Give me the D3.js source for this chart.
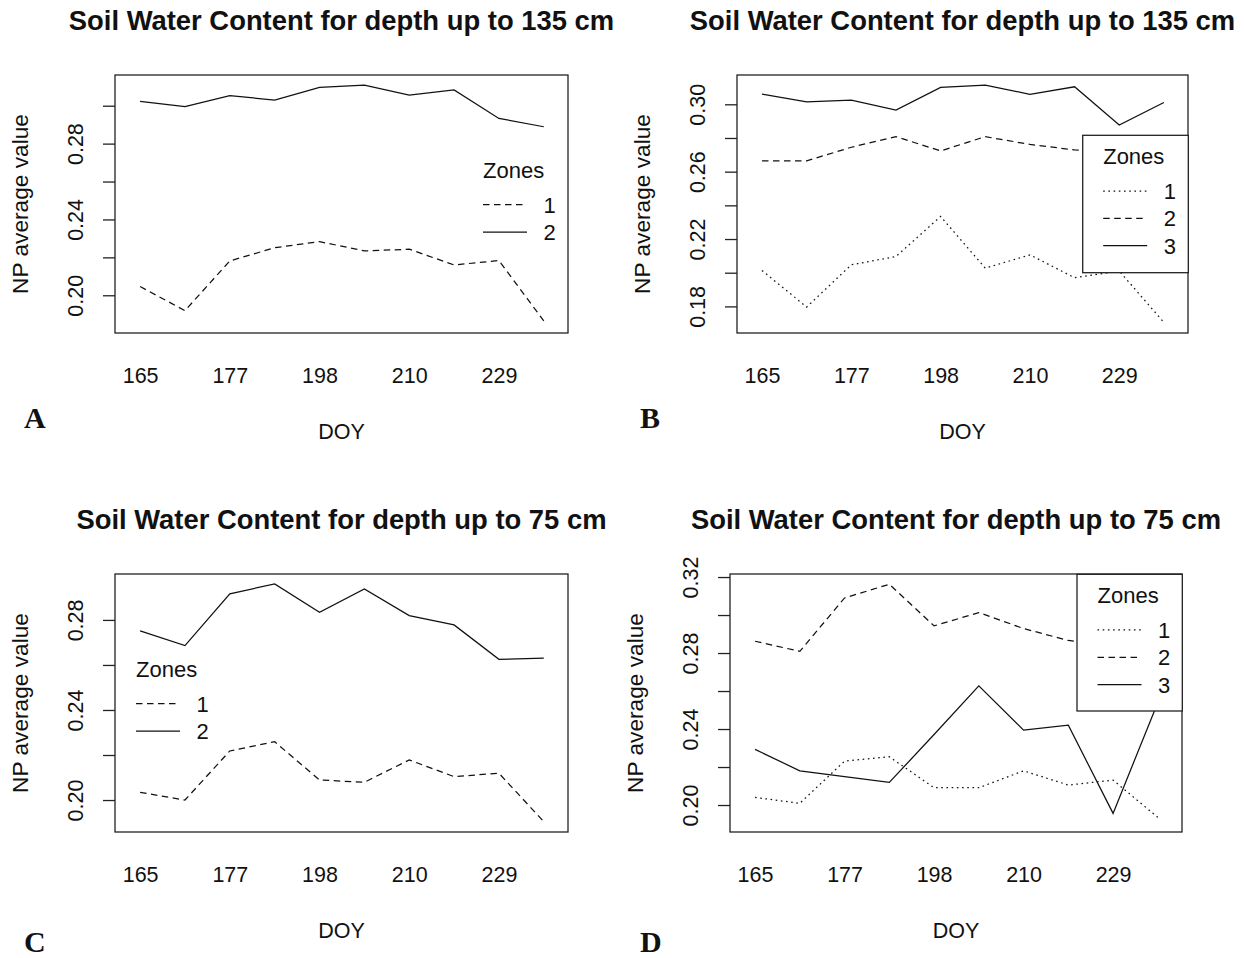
<!DOCTYPE html>
<html lang="en">
<head>
<meta charset="UTF-8">
<title>Soil Water Content</title>
<script src="https://d3js.org/d3.v7.min.js"></script>
<style>
    body { margin: 0; background: #fff; }
    svg { display: block; font-family: "Liberation Sans", Arial, sans-serif; fill: #111; }
    .box { fill: none; stroke: #222; stroke-width: 1.3; }
    .series { fill: none; stroke: #111; stroke-width: 1.25; }
    .title { font-size: 27.4px; font-weight: bold; }
    .lab { font-size: 21.5px; }
    .ylab { font-size: 22.7px; }
    .leg { font-size: 22px; }
    .letter { font-family: "Liberation Serif", "Times New Roman", serif; font-size: 30px; font-weight: bold; }
    .tick line { stroke: #222; stroke-width: 1.3; }
    .tick text { font-size: 21.5px; fill: #111; font-family: "Liberation Sans", Arial, sans-serif; }
</style>
</head>
<body>
<div id="container"></div>
<script>
// x is the sample index, only every second sample gets a DOY label
const doyTicks = [0, 2, 4, 6, 8];
const doyLabels = ["165", "177", "198", "210", "229"];

// A: 135 cm, 2 zones
const a_zone1 = [0.2046, 0.1919, 0.2181, 0.2251, 0.2283, 0.2234, 0.2243, 0.2160, 0.2183, 0.1865];
const a_zone2 = [0.3023, 0.2995, 0.3053, 0.3030, 0.3097, 0.3109, 0.3056, 0.3083, 0.2933, 0.2889];

// B: 135 cm, 3 zones
const b_zone1 = [0.2013, 0.1796, 0.2047, 0.2096, 0.2334, 0.2027, 0.2106, 0.1970, 0.2010, 0.1705];
const b_zone2 = [0.2664, 0.2664, 0.2745, 0.2808, 0.2723, 0.2808, 0.2762, 0.2729, 0.2715, 0.2720];
const b_zone3 = [0.3061, 0.3015, 0.3025, 0.2966, 0.3100, 0.3114, 0.3059, 0.3104, 0.2877, 0.3011];

// C: 75 cm, 2 zones
const c_zone1 = [0.2034, 0.2000, 0.2218, 0.2259, 0.2089, 0.2079, 0.2178, 0.2104, 0.2119, 0.1904];
const c_zone2 = [0.2751, 0.2686, 0.2916, 0.2960, 0.2834, 0.2938, 0.2819, 0.2778, 0.2625, 0.2630];

// D: 75 cm, 3 zones
const d_zone1 = [0.2040, 0.2009, 0.2231, 0.2254, 0.2091, 0.2091, 0.2180, 0.2105, 0.2131, 0.1935];
const d_zone2 = [0.2862, 0.2809, 0.3090, 0.3162, 0.2943, 0.3013, 0.2929, 0.2866, 0.2840, 0.2820];
const d_zone3 = [0.2293, 0.2180, 0.2149, 0.2119, 0.2371, 0.2627, 0.2394, 0.2420, 0.1956, 0.2540];

// y ticks (all drawn, only some labelled like R does)
const a_ticks = [0.20, 0.22, 0.24, 0.26, 0.28, 0.30];
const a_labels = [0.20, 0.24, 0.28];
const b_ticks = [0.18, 0.20, 0.22, 0.24, 0.26, 0.28, 0.30];
const b_labels = [0.18, 0.22, 0.26, 0.30];
const c_ticks = [0.20, 0.22, 0.24, 0.26, 0.28];
const c_labels = [0.20, 0.24, 0.28];
const d_ticks = [0.20, 0.22, 0.24, 0.26, 0.28, 0.30, 0.32];
const d_labels = [0.20, 0.24, 0.28, 0.32];

const dash = { solid: null, dashed: "6.5,4.5", dotted: "1.6,3.6" };

const panels = [
    { title: "Soil Water Content for depth up to 135 cm", letter: "A",
      series: [{ name: "1", values: a_zone1, lty: "dashed" }, { name: "2", values: a_zone2, lty: "solid" }],
      yDomain: [0.1801, 0.3162], ticks: a_ticks, labels: a_labels,
      box: { x: 115, y: 75, w: 453, h: 258 }, legend: { x: 462.5, y: 149, boxed: false },
      letterPos: [24, 428] },
    { title: "Soil Water Content for depth up to 135 cm", letter: "B",
      series: [{ name: "1", values: b_zone1, lty: "dotted" }, { name: "2", values: b_zone2, lty: "dashed" }, { name: "3", values: b_zone3, lty: "solid" }],
      yDomain: [0.1642, 0.3174], ticks: b_ticks, labels: b_labels,
      box: { x: 737, y: 75, w: 451, h: 258 }, legend: { x: 1082.7, y: 135.3, w: 105.6, h: 137.4, boxed: true },
      letterPos: [640, 428] },
    { title: "Soil Water Content for depth up to 75 cm", letter: "C",
      series: [{ name: "1", values: c_zone1, lty: "dashed" }, { name: "2", values: c_zone2, lty: "solid" }],
      yDomain: [0.1858, 0.3004], ticks: c_ticks, labels: c_labels,
      box: { x: 115, y: 574, w: 453, h: 258 }, legend: { x: 115.5, y: 648, boxed: false },
      letterPos: [24, 952] },
    { title: "Soil Water Content for depth up to 75 cm", letter: "D",
      series: [{ name: "1", values: d_zone1, lty: "dotted" }, { name: "2", values: d_zone2, lty: "dashed" }, { name: "3", values: d_zone3, lty: "solid" }],
      yDomain: [0.1858, 0.3216], ticks: d_ticks, labels: d_labels,
      box: { x: 730, y: 574, w: 452, h: 258 }, legend: { x: 1077, y: 574.3, w: 105.3, h: 136.7, boxed: true },
      letterPos: [640, 952] }
];

const svg = d3.select("#container").append("svg")
    .attr("width", 1244)
    .attr("height", 958);

panels.forEach(function(p) {
    const b = p.box;
    const g = svg.append("g").attr("transform", `translate(${b.x},${b.y})`);

    const x = d3.scaleLinear().domain([-0.56, 9.54]).range([0, b.w]);
    const y = d3.scaleLinear().domain(p.yDomain).range([b.h, 0]);

    // lines
    const line = d3.line().x((d, i) => x(i)).y(d => y(d));
    p.series.forEach(function(s) {
        g.append("path")
            .datum(s.values)
            .attr("class", "series")
            .attr("d", line)
            .attr("stroke-dasharray", dash[s.lty]);
    });

    // y axis, labels rotated like R's las=0
    const yAxis = g.append("g")
        .call(d3.axisLeft(y).tickValues(p.ticks).tickSize(12)
            .tickFormat(d => p.labels.some(l => Math.abs(l - d) < 1e-9) ? d3.format(".2f")(d) : ""));
    yAxis.select(".domain").remove();
    yAxis.selectAll(".tick text")
        .attr("x", null).attr("dy", null)
        .attr("text-anchor", "middle")
        .attr("transform", "translate(-32,0) rotate(-90)");

    // x axis: labels only, no ticks
    const xAxis = g.append("g")
        .attr("transform", `translate(0,${b.h})`)
        .call(d3.axisBottom(x).tickValues(doyTicks).tickSize(0)
            .tickFormat((d, i) => doyLabels[i]));
    xAxis.select(".domain").remove();
    xAxis.selectAll(".tick text").attr("y", 50).attr("dy", null);

    // frame
    g.append("rect").attr("class", "box")
        .attr("width", b.w).attr("height", b.h);

    // legend
    const L = p.legend;
    const lg = svg.append("g").attr("transform", `translate(${L.x},${L.y})`);
    if (L.boxed) {
        lg.append("rect")
            .attr("width", L.w).attr("height", L.h)
            .attr("fill", "#fff").attr("stroke", "#222").attr("stroke-width", 1.3);
    }
    lg.append("text").attr("class", "leg").attr("x", 20.5).attr("y", 29).text("Zones");
    p.series.forEach(function(s, i) {
        const ly = 55.7 + i * 27.3;
        lg.append("line")
            .attr("x1", 20.5).attr("x2", 64.5).attr("y1", ly).attr("y2", ly)
            .attr("stroke", "#111").attr("stroke-width", 1.25)
            .attr("stroke-dasharray", dash[s.lty]);
        lg.append("text").attr("class", "leg")
            .attr("x", 81).attr("y", ly + 8).text(s.name);
    });

    // titles
    svg.append("text").attr("class", "title")
        .attr("x", b.x + b.w / 2).attr("y", b.y - 45)
        .attr("text-anchor", "middle").text(p.title);
    svg.append("text").attr("class", "lab")
        .attr("x", b.x + b.w / 2).attr("y", b.y + b.h + 106)
        .attr("text-anchor", "middle").text("DOY");
    svg.append("text").attr("class", "ylab")
        .attr("text-anchor", "middle")
        .attr("transform", `translate(${b.x - 87},${b.y + b.h / 2}) rotate(-90)`)
        .text("NP average value");
    svg.append("text").attr("class", "letter")
        .attr("x", p.letterPos[0]).attr("y", p.letterPos[1])
        .text(p.letter);
});
</script>
</body>
</html>
